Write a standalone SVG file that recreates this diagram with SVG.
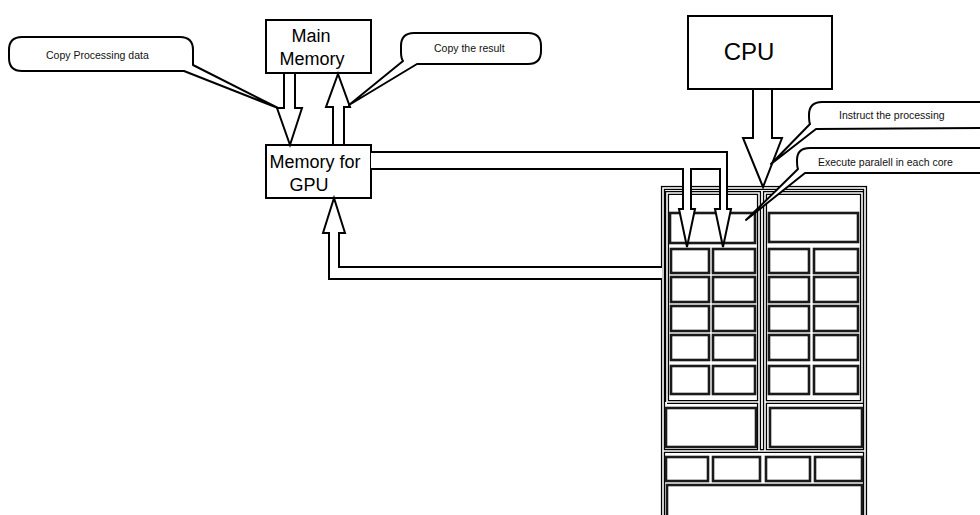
<svg xmlns="http://www.w3.org/2000/svg" xmlns:xlink="http://www.w3.org/1999/xlink" width="980" height="515" viewBox="0 0 980 515">
<style>
.box{fill:#fff;stroke:#000;stroke-width:2}
.big{font-family:"Liberation Sans",Arial,sans-serif;font-size:18px;fill:#000}
.cpu{font-family:"Liberation Sans",Arial,sans-serif;font-size:24px;fill:#000}
.note{font-family:"Liberation Sans",Arial,sans-serif;font-size:10.5px;fill:#111}
.arrow{fill:#fff;stroke:#000;stroke-width:2;stroke-linejoin:miter}
.callout{fill:#fff;stroke:#000;stroke-width:2;stroke-linejoin:round}
.cell{fill:#fff;stroke:#1a1a1a;stroke-width:2.6}
</style>
<defs>
<g id="frame">
<rect x="663" y="188" width="202" height="340"/>
<path d="M667,402 L667,193 L759,193 L759,451 M667,402 L759,402"/>
<path d="M765,451 L765,193 L862,193 L862,402 L765,402"/>
<path d="M663,451 L865,451"/>
</g>
</defs>
<rect width="980" height="515" fill="#fff"/>

<g id="gpu">
<use xlink:href="#frame" href="#frame" fill="#fff" stroke="#000" stroke-width="4.2"/>
<use xlink:href="#frame" href="#frame" fill="none" stroke="#fff" stroke-width="1.6"/>
<rect class="cell" x="670" y="213" width="85" height="30"/>
<rect class="cell" x="769" y="213" width="89" height="29"/>
<g id="cores">
<rect class="cell" x="671" y="249" width="38" height="24"/>
<rect class="cell" x="713" y="249" width="42" height="24"/>
<rect class="cell" x="769" y="249" width="40" height="24"/>
<rect class="cell" x="814" y="249" width="44" height="24"/>
<rect class="cell" x="671" y="277" width="38" height="25"/>
<rect class="cell" x="713" y="277" width="42" height="25"/>
<rect class="cell" x="769" y="277" width="40" height="25"/>
<rect class="cell" x="814" y="277" width="44" height="25"/>
<rect class="cell" x="671" y="306" width="38" height="25"/>
<rect class="cell" x="713" y="306" width="42" height="25"/>
<rect class="cell" x="769" y="306" width="40" height="25"/>
<rect class="cell" x="814" y="306" width="44" height="25"/>
<rect class="cell" x="671" y="335" width="38" height="25"/>
<rect class="cell" x="713" y="335" width="42" height="25"/>
<rect class="cell" x="769" y="335" width="40" height="25"/>
<rect class="cell" x="814" y="335" width="44" height="25"/>
<rect class="cell" x="671" y="366" width="38" height="28"/>
<rect class="cell" x="713" y="366" width="42" height="28"/>
<rect class="cell" x="769" y="366" width="40" height="28"/>
<rect class="cell" x="814" y="366" width="44" height="28"/>
</g>
<rect class="cell" x="666" y="408" width="90" height="39"/>
<rect class="cell" x="770" y="408" width="92" height="39"/>
<rect class="cell" x="666" y="457" width="42" height="24"/>
<rect class="cell" x="713" y="457" width="47" height="24"/>
<rect class="cell" x="766" y="457" width="44" height="24"/>
<rect class="cell" x="815" y="457" width="47" height="24"/>
<rect class="cell" x="667" y="485" width="195" height="40"/>
</g>

<g id="main-memory">
<rect class="box" x="266" y="20" width="105" height="53"/>
<text class="big" x="311" y="42" text-anchor="middle">Main</text>
<text class="big" x="312" y="65" text-anchor="middle">Memory</text>
</g>

<g id="gpu-memory">
<rect class="box" x="266" y="145" width="105" height="53"/>
<text class="big" x="315" y="168" text-anchor="middle">Memory for</text>
<text class="big" x="309" y="191" text-anchor="middle">GPU</text>
</g>

<g id="cpu">
<rect class="box" x="688" y="16" width="144" height="73"/>
<text class="cpu" x="749" y="60" text-anchor="middle">CPU</text>
</g>

<g id="connectors">
<path class="arrow" d="M284,73 L295,73 L295,108 L302,108 L290,145 L277,108 L284,108 Z"/>
<path class="arrow" d="M333,145 L344,145 L344,107 L350,107 L338,74 L326,107 L333,107 Z"/>
<path class="arrow" d="M753,89 L772,89 L772,138 L782,138 L763,187 L743,138 L753,138 Z"/>
<path class="arrow" d="M371,152 L727,152 L727,209 L731,209 L723,247 L715,209 L720,209 L720,169 L691,169 L691,209 L695,209 L687,247 L679,209 L683,209 L683,169 L371,169"/>
<path class="arrow" d="M662,267 L339,267 L339,233 L345,233 L334,198 L323,233 L329,233 L329,279 L662,279"/>
</g>

<g id="callout-copy-data">
<path class="callout" d="M22,37 L180,37 Q193,37 193,50 L193,65 L278,108 L184,71 L22,71 Q9,71 9,58 L9,50 Q9,37 22,37 Z"/>
<text class="note" x="46" y="59">Copy Processing data</text>
</g>

<g id="callout-copy-result">
<path class="callout" d="M414,33 L528,33 Q541,33 541,46 L541,51 Q541,64 528,64 L417,64 L349,105 L403,61 Q401,58 401,52 L401,46 Q401,33 414,33 Z"/>
<text class="note" x="434" y="52">Copy the result</text>
</g>

<g id="callout-instruct">
<path class="callout" d="M822,102 L995,102 L995,128 L816,129 L771,164 L810,124 Q809,122 809,115 Q809,102 822,102 Z"/>
<text class="note" x="839" y="119">Instruct the processing</text>
</g>

<g id="callout-execute">
<path class="callout" d="M810,148 L995,148 L995,173 L805,173 L746,220 L798,169 Q797,167 797,160 Q797,148 810,148 Z"/>
<text class="note" x="818" y="166">Execute paralell in each core</text>
</g>
</svg>
